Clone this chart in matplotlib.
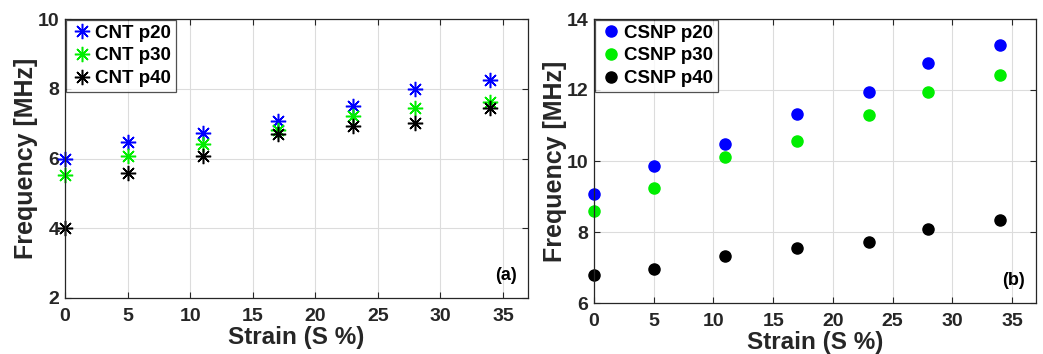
import matplotlib.pyplot as plt

plt.rcParams['font.family'] = ['Liberation Sans', 'DejaVu Sans']
plt.rcParams['font.weight'] = 'bold'

strain = [0, 5, 11, 17, 23, 28, 34]

# panel (a) - CNT
cnt_p20 = [6.0, 6.47, 6.74, 7.07, 7.50, 7.99, 8.26]
cnt_p30 = [5.52, 6.08, 6.42, 6.83, 7.22, 7.45, 7.63]
cnt_p40 = [4.0, 5.57, 6.08, 6.69, 6.94, 7.03, 7.46]

# panel (b) - CSNP
csnp_p20 = [9.06, 9.87, 10.49, 11.31, 11.94, 12.77, 13.26]
csnp_p30 = [8.58, 9.23, 10.12, 10.57, 11.30, 11.95, 12.43]
csnp_p40 = [6.78, 6.97, 7.32, 7.54, 7.73, 8.09, 8.33]

colors = ['#0000ff', '#00ee00', 'black']

fig = plt.figure(figsize=(10.43, 3.54), dpi=100)
ax1 = fig.add_axes([65 / 1043, 1 - 298 / 354, (528 - 65) / 1043, (298 - 19) / 354])
ax2 = fig.add_axes([594 / 1043, 1 - 303 / 354, (1036 - 594) / 1043, (303 - 19) / 354])

for ys, lab, c in zip([cnt_p20, cnt_p30, cnt_p40], ['CNT p20', 'CNT p30', 'CNT p40'], colors):
    ax1.plot(strain, ys, linestyle='none', marker=(8, 2, 0), markersize=11,
             markeredgewidth=1.1, color=c, label=lab, clip_on=False)

for ys, lab, c in zip([csnp_p20, csnp_p30, csnp_p40], ['CSNP p20', 'CSNP p30', 'CSNP p40'], colors):
    ax2.plot(strain, ys, linestyle='none', marker='o', markersize=8,
             color=c, label=lab, clip_on=False)

ax1.set_ylim(2, 10)
ax1.set_yticks([2, 4, 6, 8, 10])
ax2.set_ylim(6, 14)
ax2.set_yticks([6, 8, 10, 12, 14])

for ax, tag in [(ax1, '(a)'), (ax2, '(b)')]:
    ax.set_xlim(0, 37)
    ax.set_xticks([0, 5, 10, 15, 20, 25, 30, 35])
    ax.grid(True, color='#dcdcdc', linewidth=0.8)
    ax.set_axisbelow(True)
    ax.tick_params(direction='in', top=True, right=True, length=4,
                   labelsize=14, colors='#262626')
    ax.tick_params(axis='x', pad=7)
    ax.tick_params(axis='y', pad=4)
    for s in ax.spines.values():
        s.set_color('#262626')
        s.set_linewidth(0.9)
    ax.set_xlabel('Strain (S %)', fontsize=17.5, fontweight='bold', color='#262626', labelpad=1)
    ax.set_ylabel('Frequency [MHz]', fontsize=18, fontweight='bold', color='#262626', labelpad=0)
    ax.text(0.975, 0.05, tag, transform=ax.transAxes, ha='right', va='bottom',
            fontsize=13, fontweight='bold')
    leg = ax.legend(loc='upper left', fontsize=13.5, frameon=True, fancybox=False,
                    borderaxespad=0.05, handletextpad=0.1, handlelength=1.2,
                    borderpad=0.25, labelspacing=0.3)
    leg.get_frame().set_edgecolor('#262626')
    leg.get_frame().set_linewidth(0.9)

fig.savefig('out.png', dpi=100)
